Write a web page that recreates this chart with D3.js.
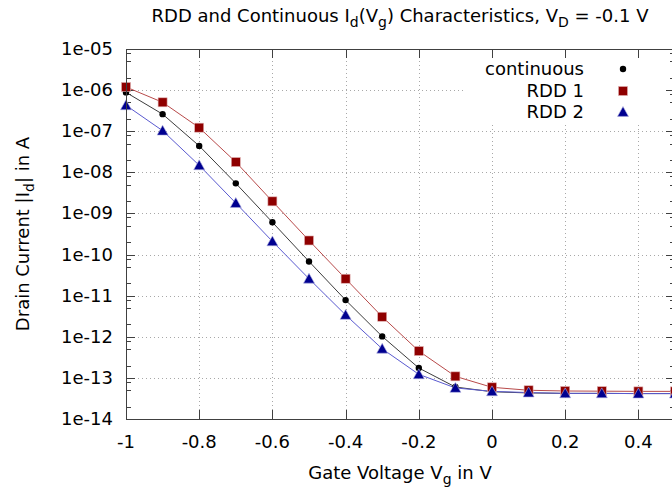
<!DOCTYPE html>
<html lang="en">
<head>
<meta charset="UTF-8">
<title>RDD and Continuous Id(Vg)</title>
<script src="https://d3js.org/d3.v7.min.js"></script>
<style>
    body { margin: 0; background: #fff; }
    svg { display: block; font-family: "DejaVu Sans", sans-serif; }
    .tick-label { font-size: 18px; fill: #000; }
</style>
</head>
<body>
<svg width="672" height="491"></svg>
<script>
    // gate voltage values (V)
    const gateVoltage = [-1, -0.9, -0.8, -0.7, -0.6, -0.5, -0.4, -0.3, -0.2, -0.1, 0, 0.1, 0.2, 0.3, 0.4, 0.5];
    // drain currents |Id| in A
    const continuousId = [8.8e-7, 2.6e-7, 4.4e-8, 5.4e-9, 6.1e-10, 6.8e-11, 7.8e-12, 1.02e-12, 1.74e-13, 6.0e-14, 4.6e-14, 4.3e-14, 4.2e-14, 4.2e-14, 4.15e-14, 4.15e-14];
    const rdd1Id = [1.19e-6, 5.05e-7, 1.22e-7, 1.78e-8, 1.97e-9, 2.2e-10, 2.58e-11, 3.07e-12, 4.5e-13, 1.09e-13, 5.9e-14, 5.0e-14, 4.8e-14, 4.75e-14, 4.7e-14, 4.7e-14];
    const rdd2Id = [4.27e-7, 1.03e-7, 1.48e-8, 1.79e-9, 2.09e-10, 2.58e-11, 3.4e-12, 5.1e-13, 1.22e-13, 5.7e-14, 4.7e-14, 4.4e-14, 4.2e-14, 4.2e-14, 4.15e-14, 4.15e-14];

    const xTicks = [-1, -0.8, -0.6, -0.4, -0.2, 0, 0.2, 0.4];
    const xTickLabels = ["-1", "-0.8", "-0.6", "-0.4", "-0.2", "0", "0.2", "0.4"];
    const yTicks = [1e-14, 1e-13, 1e-12, 1e-11, 1e-10, 1e-9, 1e-8, 1e-7, 1e-6, 1e-5];
    const yTickLabels = ["1e-14", "1e-13", "1e-12", "1e-11", "1e-10", "1e-09", "1e-08", "1e-07", "1e-06", "1e-05"];
    const legendNames = ["continuous", "RDD 1", "RDD 2"];

    const pLeft = 126, pRight = 675, pTop = 49, pBottom = 419;
    const svg = d3.select("svg");

    const x = d3.scaleLinear().domain([-1, 0.5]).range([pLeft, pRight]);
    const y = d3.scaleLog().domain([1e-14, 1e-5]).range([pBottom, pTop]);

    // minor ticks at 2, 5, 8 per decade
    const minorTicks = [];
    yTicks.slice(0, -1).forEach(d => [2, 5, 8].forEach(m => minorTicks.push(d * m)));

    // grid
    const grid = svg.append("g").attr("stroke", "#a8a8a8").attr("stroke-width", 1)
        .attr("stroke-dasharray", "1,3");
    grid.selectAll(".gx").data(xTicks.slice(1)).enter().append("line")
        .attr("x1", d => Math.round(x(d)) + 0.5).attr("x2", d => Math.round(x(d)) + 0.5)
        .attr("y1", pTop).attr("y2", pBottom);
    grid.selectAll(".gy").data(yTicks.slice(1, -1)).enter().append("line")
        .attr("y1", d => Math.round(y(d)) + 0.5).attr("y2", d => Math.round(y(d)) + 0.5)
        .attr("x1", pLeft).attr("x2", pRight);

    // axes ticks (all four sides, inward)
    const ax = svg.append("g").attr("stroke", "#404040").attr("stroke-width", 1);
    xTicks.slice(1).forEach(d => {
        const px = Math.round(x(d)) + 0.5;
        ax.append("line").attr("x1", px).attr("x2", px).attr("y1", pBottom).attr("y2", pBottom - 9);
    });
    yTicks.forEach(d => {
        const py = Math.round(y(d)) + 0.5;
        ax.append("line").attr("x1", pLeft).attr("x2", pLeft + 9).attr("y1", py).attr("y2", py);
        ax.append("line").attr("x1", pRight).attr("x2", pRight - 9).attr("y1", py).attr("y2", py);
    });
    minorTicks.forEach(d => {
        const py = Math.round(y(d)) + 0.5;
        ax.append("line").attr("x1", pLeft).attr("x2", pLeft + 5).attr("y1", py).attr("y2", py);
        ax.append("line").attr("x1", pRight).attr("x2", pRight - 5).attr("y1", py).attr("y2", py);
    });

    // tick labels
    svg.append("g").selectAll("text").data(xTicks).enter().append("text")
        .attr("class", "tick-label")
        .attr("x", d => x(d)).attr("y", 448)
        .attr("text-anchor", "middle")
        .text((d, i) => xTickLabels[i]);
    svg.append("g").selectAll("text").data(yTicks).enter().append("text")
        .attr("class", "tick-label")
        .attr("x", 113).attr("y", d => y(d) + 6)
        .attr("text-anchor", "end")
        .text((d, i) => yTickLabels[i]);

    // series
    const series = [
        { values: continuousId, line: "#3c3c3c", fill: "#000000", shape: "circle" },
        { values: rdd1Id, line: "#b84a4a", fill: "#8f0000", shape: "square" },
        { values: rdd2Id, line: "#5a5ad0", fill: "#000090", shape: "triangle" }
    ];
    const line = d3.line().x(d => x(d[0])).y(d => y(d[1]));

    function marker(g, shape, fill, cx, cy) {
        if (shape === "circle") {
            g.append("circle").attr("cx", cx).attr("cy", cy).attr("r", 3.2).attr("fill", fill);
        } else if (shape === "square") {
            g.append("rect").attr("x", cx - 4.5).attr("y", cy - 4.5).attr("width", 9).attr("height", 9)
                .attr("fill", fill).attr("stroke", "#e0b0b0").attr("stroke-width", 0.6);
        } else {
            const s = 5.5;
            g.append("path")
                .attr("d", `M${cx},${cy - s} L${cx + s},${cy + s * 0.8} L${cx - s},${cy + s * 0.8} Z`)
                .attr("fill", fill).attr("stroke", "#b0b0e0").attr("stroke-width", 0.6);
        }
    }

    const plot = svg.append("g");
    series.forEach(s => {
        const pts = gateVoltage.map((v, i) => [v, s.values[i]]);
        plot.append("path").datum(pts).attr("d", line)
            .attr("fill", "none").attr("stroke", s.line).attr("stroke-width", 1);
    });
    series.forEach(s => {
        const g = plot.append("g");
        gateVoltage.forEach((v, i) => marker(g, s.shape, s.fill, x(v), y(s.values[i])));
    });

    // legend (white background box, no border)
    svg.append("rect").attr("x", 466).attr("y", pTop + 1).attr("width", 200).attr("height", 74).attr("fill", "#fff");
    const legendY = [69, 91, 112];
    legendNames.forEach((name, i) => {
        svg.append("text").attr("class", "tick-label")
            .attr("x", 584).attr("y", legendY[i] + 6).attr("text-anchor", "end").text(name);
        marker(svg, series[i].shape, series[i].fill, 623, legendY[i]);
    });
    // top ticks over legend area
    xTicks.slice(1).forEach(d => {
        const px = Math.round(x(d)) + 0.5;
        svg.append("line").attr("x1", px).attr("x2", px).attr("y1", pTop).attr("y2", pTop + 9)
            .attr("stroke", "#404040");
    });

    // border
    svg.append("rect").attr("x", pLeft + 0.5).attr("y", pTop + 0.5)
        .attr("width", pRight - pLeft).attr("height", pBottom - pTop)
        .attr("fill", "none").attr("stroke", "#404040").attr("stroke-width", 1);

    // title
    const title = svg.append("text").attr("x", 400).attr("y", 22).attr("text-anchor", "middle")
        .attr("font-size", 18);
    title.append("tspan").text("RDD and Continuous I");
    title.append("tspan").attr("font-size", 14).attr("dy", 5).text("d");
    title.append("tspan").attr("dy", -5).text("(V");
    title.append("tspan").attr("font-size", 14).attr("dy", 5).text("g");
    title.append("tspan").attr("dy", -5).text(") Characteristics, V");
    title.append("tspan").attr("font-size", 14).attr("dy", 5).text("D");
    title.append("tspan").attr("dy", -5).text(" = -0.1 V");

    // x label
    const xl = svg.append("text").attr("x", 400).attr("y", 479).attr("text-anchor", "middle")
        .attr("font-size", 18);
    xl.append("tspan").text("Gate Voltage V");
    xl.append("tspan").attr("font-size", 14).attr("dy", 5).text("g");
    xl.append("tspan").attr("dy", -5).text(" in V");

    // y label
    const yl = svg.append("text").attr("transform", "translate(29,234) rotate(-90)")
        .attr("text-anchor", "middle").attr("font-size", 18);
    yl.append("tspan").text("Drain Current |I");
    yl.append("tspan").attr("font-size", 14).attr("dy", 5).text("d");
    yl.append("tspan").attr("dy", -5).text("| in A");
</script>
</body>
</html>
